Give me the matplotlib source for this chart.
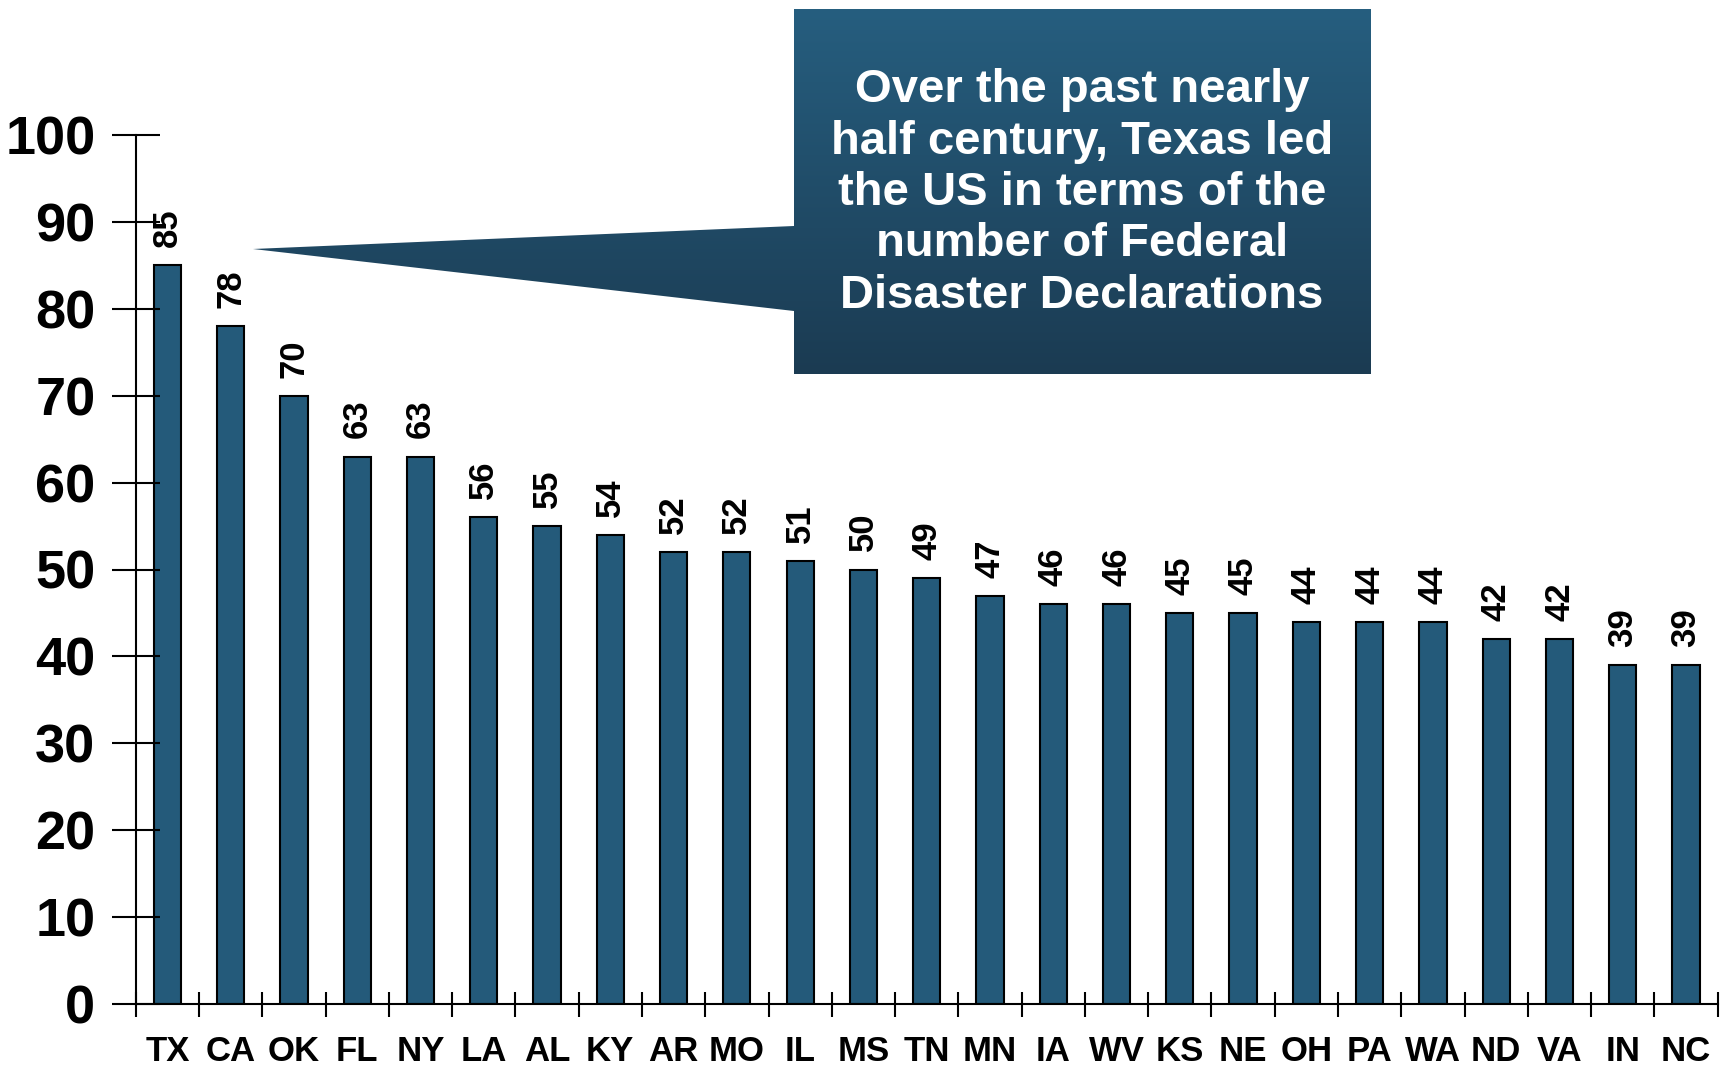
import numpy as np
import matplotlib.pyplot as plt
from matplotlib.colors import LinearSegmentedColormap
from matplotlib.patches import Polygon

states = ['TX', 'CA', 'OK', 'FL', 'NY', 'LA', 'AL', 'KY', 'AR', 'MO', 'IL', 'MS', 'TN',
          'MN', 'IA', 'WV', 'KS', 'NE', 'OH', 'PA', 'WA', 'ND', 'VA', 'IN', 'NC']
declarations = [85, 78, 70, 63, 63, 56, 55, 54, 52, 52, 51, 50, 49,
                47, 46, 46, 45, 45, 44, 44, 44, 42, 42, 39, 39]
y_ticks = list(range(0, 101, 10))
callout = ("Over the past nearly\nhalf century, Texas led\nthe US in terms of the\n"
           "number of Federal\nDisaster Declarations")

plt.rcParams['font.family'] = ['Liberation Sans', 'DejaVu Sans']
plt.rcParams['font.weight'] = 'bold'
narrow = ['Liberation Sans Narrow', 'Liberation Sans']

W, H = 1725, 1068
fig = plt.figure(figsize=(W / 100, H / 100), dpi=100)
ax = fig.add_axes([135.7 / W, 1 - 1004 / H, (1717.7 - 135.7) / W, (1004 - 135) / H])

x = np.arange(len(states))
ax.bar(x, declarations, width=0.43, color='#245a7a', edgecolor='black', linewidth=1.5)
for xi, v in zip(x, declarations):
    ax.annotate(str(v), (xi, v), xytext=(0, 13), textcoords='offset points',
                rotation=90, ha='center', va='bottom', fontsize=25, fontweight='bold')

ax.set_xlim(-0.5, len(states) - 0.5)
ax.set_ylim(0, 100)
ax.set_yticks(y_ticks)
ax.set_yticklabels([str(t) for t in y_ticks], fontsize=39, fontweight='bold', family=narrow)
ax.tick_params(axis='y', direction='inout', length=34, width=1.5, pad=12)

# boundary ticks on the category axis, state names on minor ticks at the bar centres
ax.set_xticks(np.arange(-0.5, len(states), 1.0))
ax.set_xticklabels([])
ax.tick_params(axis='x', which='major', direction='inout', length=18, width=1.5)
ax.set_xticks(x, minor=True)
ax.set_xticklabels(states, minor=True, fontsize=25, fontweight='bold', family=narrow)
ax.tick_params(axis='x', which='minor', length=0, pad=22)

for side in ['top', 'right']:
    ax.spines[side].set_visible(False)
for side in ['left', 'bottom']:
    ax.spines[side].set_linewidth(1.5)

# callout box with a pointer, drawn in pixel coordinates over the whole figure
ov = fig.add_axes([0, 0, 1, 1])
ov.axis('off')
shape = Polygon([(794, 9), (1371, 9), (1371, 374), (794, 374),
                 (794, 311), (253, 249), (794, 226)], closed=True,
                facecolor='none', edgecolor='none')
ov.add_patch(shape)
cmap = LinearSegmentedColormap.from_list('box', ['#265e7f', '#1b3b52'])
grad = np.linspace(0, 1, 256).reshape(-1, 1)
img = ov.imshow(grad, cmap=cmap, aspect='auto', extent=[253, 1371, 374, 9])
img.set_clip_path(shape)
ov.set_xlim(0, W)
ov.set_ylim(H, 0)
ov.text(1082, 193, callout, color='white', fontsize=34, fontweight='bold',
        ha='center', va='center', linespacing=1.215)

fig.savefig('out.png', dpi=100)
